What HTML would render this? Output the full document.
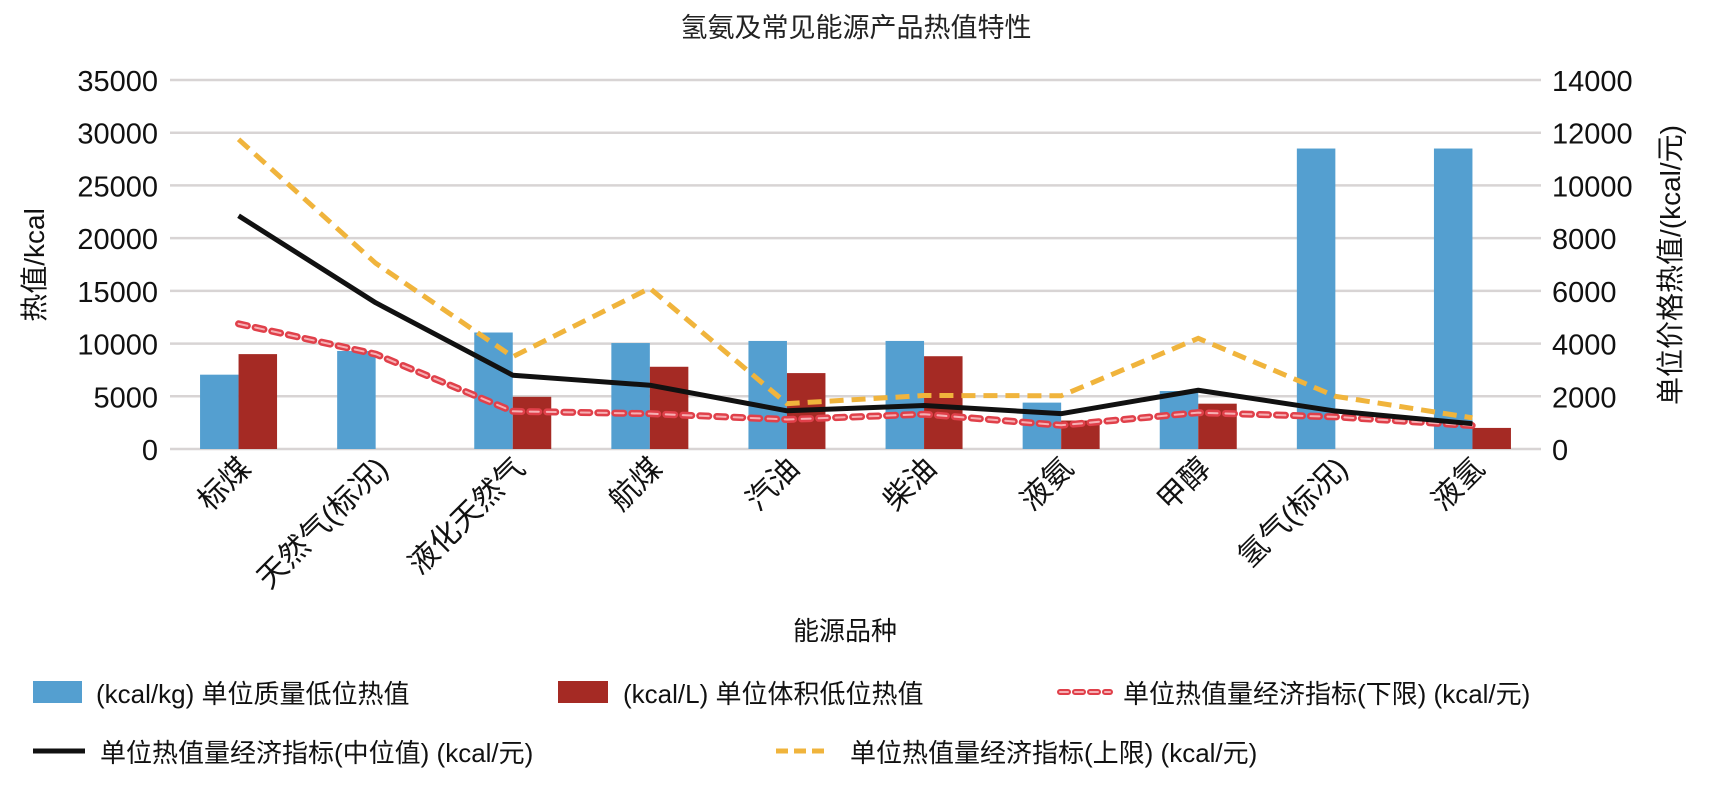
<!DOCTYPE html>
<html><head><meta charset="utf-8"><style>
body{margin:0;background:#fff;}
svg{display:block;font-family:"Liberation Sans","Noto Sans CJK SC",sans-serif;}
</style></head><body>
<svg id="chart" width="1709" height="791">
<text x="856" y="37" font-size="27" text-anchor="middle" fill="#222">氢氨及常见能源产品热值特性</text>
<g id="grid"></g><g id="bars"></g><g id="lines"></g><g id="axes"></g>
<text transform="translate(44,265) rotate(-90)" font-size="28" text-anchor="middle" fill="#111">热值/kcal</text>
<text transform="translate(1680,265) rotate(-90)" font-size="28" text-anchor="middle" fill="#111">单位价格热值/(kcal/元)</text>
<text x="845" y="640" font-size="26" text-anchor="middle" fill="#111">能源品种</text>
<g font-size="26" fill="#111">
 <g><rect x="33" y="681" width="49" height="22" fill="#549fd0"/><text x="96" y="703">(kcal/kg) 单位质量低位热值</text></g>
 <g><rect x="558" y="681" width="50" height="22" fill="#a52a24"/><text x="623" y="703">(kcal/L) 单位体积低位热值</text></g>
 <g><line x1="1060" y1="692" x2="1110" y2="692" stroke="#e0404a" stroke-width="6" stroke-dasharray="8 7" stroke-linecap="round"/><line x1="1060" y1="692" x2="1110" y2="692" stroke="#f6b0b4" stroke-width="2" stroke-dasharray="8 7" stroke-linecap="round"/><text x="1123" y="703">单位热值量经济指标(下限)  (kcal/元)</text></g>
 <g><line x1="33" y1="751" x2="85" y2="751" stroke="#111" stroke-width="5"/><text x="100" y="762">单位热值量经济指标(中位值)  (kcal/元)</text></g>
 <g><line x1="776" y1="751" x2="828" y2="751" stroke="#f0b43c" stroke-width="5" stroke-dasharray="12 6"/><text x="850" y="762">单位热值量经济指标(上限)  (kcal/元)</text></g>
</g>
</svg>
<script>
const categories=["标煤","天然气(标况)","液化天然气","航煤","汽油","柴油","液氨","甲醇","氢气(标况)","液氢"];
const massHeat=[7050,9300,11050,10050,10250,10250,4400,5500,28500,28500];
const volHeat=[9000,0,4950,7800,7200,8800,2700,4300,0,2000];
const upperLimit=[11750,7050,3500,6100,1720,2030,2020,4200,2000,1180];
const medianVal=[8850,5550,2800,2420,1450,1650,1340,2230,1440,960];
const lowerLimit=[4750,3600,1430,1340,1120,1320,900,1380,1220,890];
const leftTicks=[0,5000,10000,15000,20000,25000,30000,35000];
const rightTicks=[0,2000,4000,6000,8000,10000,12000,14000];
const NS="http://www.w3.org/2000/svg";
const X0=170,X1=1541,Y0=449,Y1=80,bw=38.5;
const step=(X1-X0)/categories.length;
const cx=i=>X0+step*(i+0.5);
const yL=v=>Y0-(v/35000)*(Y0-Y1);
const yR=v=>Y0-(v/14000)*(Y0-Y1);
function mk(t,a,p){const e=document.createElementNS(NS,t);for(const k in a)e.setAttribute(k,a[k]);p.appendChild(e);return e;}
const grid=document.getElementById('grid'),axes=document.getElementById('axes'),bars=document.getElementById('bars'),lines=document.getElementById('lines');
leftTicks.forEach(v=>{
 const l=mk('line',{x1:X0,x2:X1,y1:yL(v),y2:yL(v),stroke:'#d8d4d4','stroke-width':2.5},grid);
 
 
 const t=mk('text',{x:158,y:yL(v)+11,'font-size':29,'text-anchor':'end',fill:'#111'},axes);
 t.textContent=v;
 
 
});
rightTicks.forEach(v=>{
 const t=mk('text',{x:1552,y:yR(v)+11,'font-size':29,fill:'#111'},axes);
 t.textContent=v;
 
 
});
categories.forEach((c,i)=>{
 const t=mk('text',{transform:`translate(${cx(i)+14},${470}) rotate(-45)`,'font-size':30,'text-anchor':'end',fill:'#111'},axes);
 t.textContent=c;
 
 
 if(massHeat[i]>0){const b=mk('rect',{x:cx(i)-bw,y:yL(massHeat[i]),width:bw,height:Y0-yL(massHeat[i]),fill:'#549fd0'},bars);
 
 }
 if(volHeat[i]>0){const b=mk('rect',{x:cx(i),y:yL(volHeat[i]),width:bw,height:Y0-yL(volHeat[i]),fill:'#a52a24'},bars);
 
 }
});
const pts=arr=>arr.map((v,i)=>cx(i)+','+yR(v)).join(' ');
let p=mk('polyline',{points:pts(lowerLimit),fill:'none',stroke:'#e0404a','stroke-width':7,'stroke-dasharray':'9 8','stroke-linecap':'round','stroke-linejoin':'round'},lines);


p=mk('polyline',{points:pts(lowerLimit),fill:'none',stroke:'#f6b0b4','stroke-width':2,'stroke-dasharray':'9 8','stroke-linecap':'round'},lines);


p=mk('polyline',{points:pts(upperLimit),fill:'none',stroke:'#f0b43c','stroke-width':5,'stroke-dasharray':'14 8'},lines);


p=mk('polyline',{points:pts(medianVal),fill:'none',stroke:'#111','stroke-width':5,'stroke-linejoin':'round'},lines);


</script>
</body></html>
